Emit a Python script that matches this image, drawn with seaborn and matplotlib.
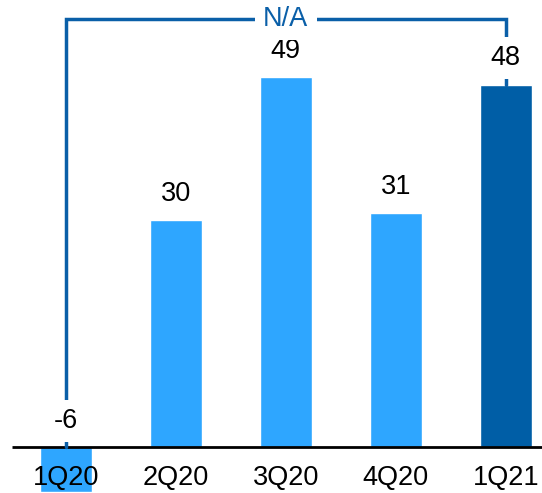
import matplotlib
matplotlib.use("Agg")
import matplotlib.pyplot as plt
import seaborn as sns
import pandas as pd

# Quarterly values
quarters = ["1Q20", "2Q20", "3Q20", "4Q20", "1Q21"]
values = [-6, 30, 49, 31, 48]
bar_colors = ["#2EA6FF", "#2EA6FF", "#2EA6FF", "#2EA6FF", "#005EA6"]
bracket_label = "N/A"

sns.set_theme(style="white")
plt.rcParams["font.family"] = ["Liberation Sans", "DejaVu Sans"]

df = pd.DataFrame({"quarter": quarters, "value": values})

fig = plt.figure(figsize=(5.42, 4.93), dpi=100)
ax = fig.add_axes([0, 0, 1, 1])

sns.barplot(data=df, x="quarter", y="value", hue="quarter",
            palette=bar_colors, legend=False, width=0.47,
            saturation=1, ax=ax, zorder=2)

ax.set_xlim(-0.6, 4.33)
ax.set_ylim(-6.09, 59.2)
for s in ax.spines.values():
    s.set_visible(False)
ax.set_xticks([])
ax.set_yticks([])
ax.set_xlabel("")
ax.set_ylabel("")

# zero baseline
ax.plot([-0.49, 4.4], [0, 0], color="black", lw=2, zorder=3,
        solid_capstyle="butt")

fs = 19.5
white_box = dict(boxstyle="square,pad=0.3", fc="white", ec="none")

# value labels above each bar (negative bar labelled above the baseline)
for i, v in enumerate(values):
    ax.annotate(f"{v}", xy=(i, max(v, 0)), xytext=(0, 19),
                textcoords="offset points", ha="center", va="center",
                fontsize=fs, color="black", bbox=white_box, zorder=6)

# tick labels under the baseline
for i, q in enumerate(quarters):
    ax.text(i, -4.1, q, ha="center", va="center", fontsize=fs,
            color="black", zorder=6)

# comparison bracket between first and last quarter
line_color = "#0A5FA8"
top_y = 56.7
first, last = 0, len(values) - 1
ax.plot([first, first, last, last],
        [0, top_y, top_y, values[last]],
        color=line_color, lw=2.5, zorder=4, solid_joinstyle="miter")
ax.text((first + last) / 2, top_y, bracket_label, ha="center",
        va="center", fontsize=fs, color=line_color,
        bbox=dict(boxstyle="square,pad=0.3", fc="white", ec="none"),
        zorder=6)

fig.savefig("out.png", dpi=100)
